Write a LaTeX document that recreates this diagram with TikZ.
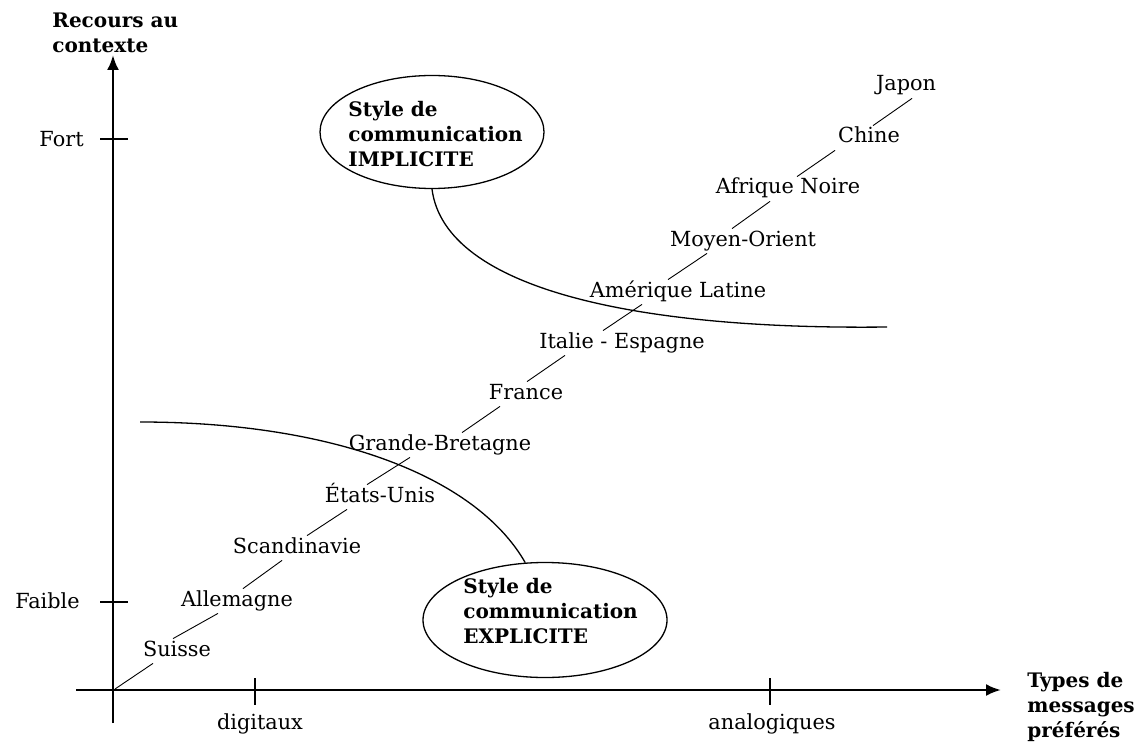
\documentclass[tikz,border=0pt]{standalone}
\usepackage{fontspec}
\setmainfont{DejaVu Serif}
\usetikzlibrary{shapes.geometric,arrows.meta}
\tikzset{pays/.style = {inner sep=1pt, text height=7.5pt, text depth=2.5pt, font=\fontsize{10.4}{12}\selectfont},
  axe/.style = {inner sep=0pt, font=\fontsize{10.4}{12}\selectfont},
  titre/.style = {align=left, inner sep=0pt, font=\bfseries\fontsize{10}{12.5}\selectfont},
  bulle/.style = {draw, ellipse, line width=.65pt},
  lien/.style = {line width=.45pt},
  courbe/.style = {line width=.65pt},
  fleche/.style = {line width=1.25pt, -{Latex[length=7.5pt,width=6pt]}}}

\begin{document}
\begin{tikzpicture}[x=.5pt, y=-.5pt]
      \fill [white] (0,0) rectangle (1144,738);
      % axes
      \draw [fleche] (113,723) -- (113,55);
      \draw [fleche] (76,690) -- (1001,690);
      \coordinate (o) at (115,689);
      \draw [line width=.7pt] (100,139) -- (128,139);
      \draw [line width=.7pt] (100,602) -- (128,602);
      \draw [line width=.7pt] (255,678) -- (255,705);
      \draw [line width=.7pt] (770,678) -- (770,705);
      \node [titre, anchor=north west] (recours) at (52,13) {Recours au\\contexte};
      \node [titre, anchor=north west] (types) at (1027,672) {Types de\\messages\\préférés};
      \node [axe, anchor=east] (fort) at (84,139) {Fort};
      \node [axe, anchor=east] (faible) at (80,601) {Faible};
      \node [axe] (digitaux) at (260,724) {digitaux};
      \node [axe] (analogiques) at (772,724) {analogiques};

      % les deux styles
      \node [bulle, minimum width=112pt, minimum height=56.5pt] (implicite) at (432,132) {};
      \node [titre, anchor=west] (implicite-texte) at (348,134) {Style de\\communication\\IMPLICITE};
      \node [bulle, minimum width=122pt, minimum height=57.5pt] (explicite) at (545,620) {};
      \node [titre, anchor=west] (explicite-texte) at (463,611) {Style de\\communication\\EXPLICITE};
      \coordinate (fin-implicite) at (887,327);
      \coordinate (debut-explicite) at (140,422);
      \draw [courbe] (implicite.south) .. controls (445,290) and (640,330) .. (fin-implicite);
      \draw [courbe] (debut-explicite) .. controls (330,422) and (475,475) .. (explicite.109);

      % pays
      \node [pays] (suisse) at (177,651) {Suisse};
      \node [pays] (allemagne) at (237,601) {Allemagne};
      \node [pays] (scandinavie) at (297,548) {Scandinavie};
      \node [pays] (usa) at (380,497) {États-Unis};
      \node [pays] (gb) at (440,445) {Grande-Bretagne};
      \node [pays] (france) at (526,394) {France};
      \node [pays] (italie) at (622,343) {Italie - Espagne};
      \node [pays] (amerique) at (678,292) {Amérique Latine};
      \node [pays] (orient) at (743,241) {Moyen-Orient};
      \node [pays] (afrique) at (788,189) {Afrique Noire};
      \node [pays] (chine) at (869,138) {Chine};
      \node [pays] (japon) at (906,86) {Japon};
      \draw [lien] (o) -- ([xshift=-12pt]suisse.south);
      \foreach \bas/\haut/\s/\e in {suisse/allemagne/-2pt/-9.5pt, allemagne/scandinavie/3pt/-7.5pt,
        scandinavie/usa/5pt/-16.5pt, usa/gb/-6.5pt/-15pt, gb/france/11pt/-13pt,
        france/italie/.5pt/-28.5pt, italie/amerique/-9.5pt/-18pt, amerique/orient/-5pt/-18pt,
        orient/afrique/-5.5pt/-9pt, afrique/chine/4.5pt/-17pt, chine/japon/2pt/3pt}
        \draw [lien] ([xshift=\s]\bas.north) -- ([xshift=\e]\haut.south);
    \end{tikzpicture}
\end{document}
